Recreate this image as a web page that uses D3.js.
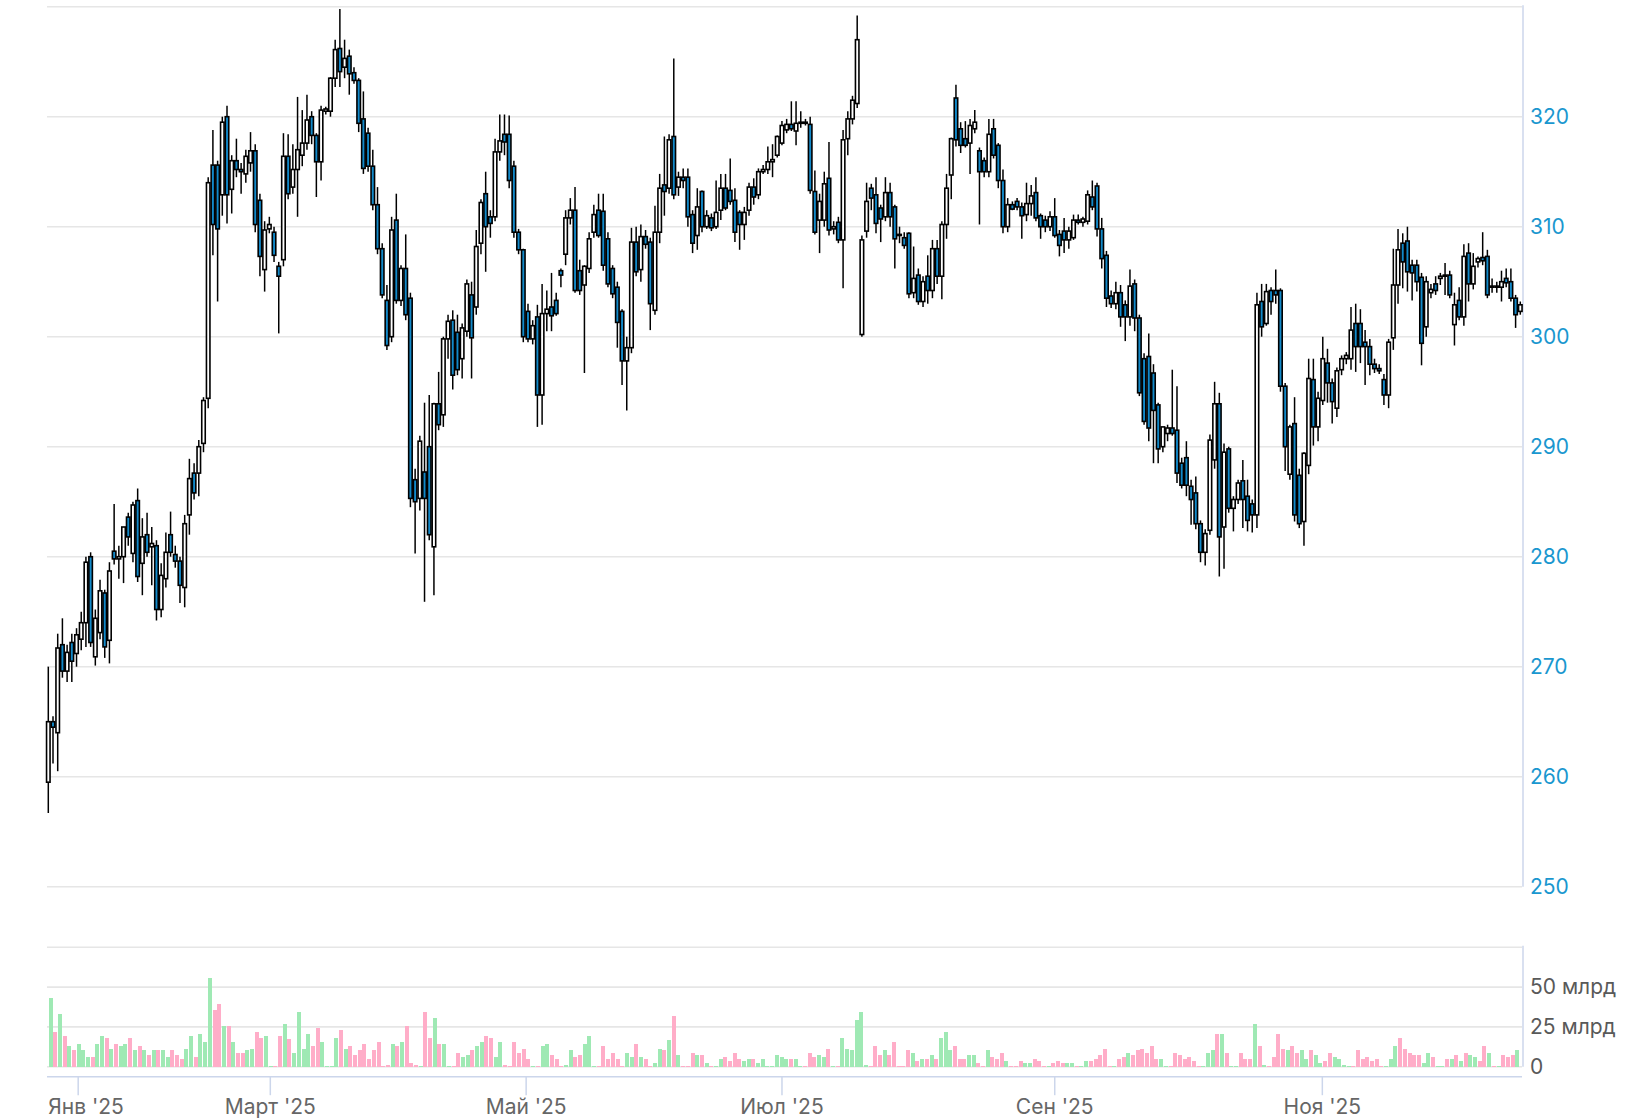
<!DOCTYPE html>
<html><head><meta charset="utf-8">
<script src="https://cdn.jsdelivr.net/npm/d3@7"></script>
<style>
html,body{margin:0;padding:0;background:#fff;}
svg{display:block;font-family:Inter,"Noto Sans",sans-serif;}
</style></head><body>
<svg id="c" width="1646" height="1119"></svg>
<script>
// ---- data ----
const open = [
259.5,265,264,272,269.6,272.2,271.2,272.5,274,280,
270.9,273.1,276.7,272.4,280.5,279.8,280,283.6,280.3,285.1,
279.4,282,280.9,281,275.2,278,282,280.2,279.6,277.2,
283.8,287.6,287.6,290.3,294.4,315.6,315.6,312.9,320,313.4,
316,315.2,314.8,315.8,316.9,312.4,306.1,309.8,309.5,306.4,
307,316.4,313.6,315.2,316.5,317.6,320,318.3,315.9,320.5,
320.5,323.5,326.2,324.5,325.5,324,323.3,319.8,318.5,315.5,
312,308,303.3,300,310.6,303.3,306.2,303.5,287,285.3,
287.7,290,280.9,293.9,292.9,299.8,301.5,300.4,298,300.5,
303.8,302.7,308.5,313,310.9,310.9,316.8,318.4,318.4,315.5,
309.5,307.9,302.3,299.8,301.8,294.7,302.1,302.7,303.3,306,
307.5,310.8,311.5,306,304.7,306.2,309.5,311.5,311.4,308.9,
306.2,304.5,302.3,297.8,299,308.6,306.1,309.1,308.6,302.4,
309.5,313.8,313.5,318.2,313.6,314.5,314.5,311.1,309.2,313.2,
310,310.8,310,311.5,313.5,313.3,312.4,311.3,310.2,311.5,
313.6,312.9,315,315.2,315.9,316.5,317.6,318.8,319.3,318.7,
319.4,319.5,319.3,313.2,310.6,310.6,314.4,309.8,310.4,308.8,
318,319.8,321.2,300.2,309.6,313.5,312.9,311.7,310.9,313.1,
311.8,309.3,309,309.4,304,305.6,303.2,305.5,304.2,308,
305.5,310.2,314.7,321.7,318.9,318,317.6,318.9,316.9,316,
315,318.9,317.4,314.2,310,312,312.3,311.8,311.1,312.1,
313.1,311,310.6,310,310.9,309.3,309.6,308.8,309,310.6,
310.4,310.5,312.7,313.7,309.8,307.4,303.7,303,304,302.9,
301.8,304.8,301.7,298,298.2,296.7,293.8,290,291.2,291.7,
291.5,288.5,289,286.4,285.8,283,280.4,282.4,288.8,293.9,
282.7,289.8,284.4,285.2,286.9,285.5,284.8,283.8,303.2,301.2,
304.2,304.2,304.2,295.5,287.5,292.1,287.4,283.2,288.3,296.1,
291.8,294.2,297.6,295.8,293.5,297,298,298,301.2,301.2,
299.5,299.1,297.5,297.1,296.1,294.7,299.9,304.7,308.5,308.7,
306.5,306.5,305.4,300.9,304,304.8,305.3,305.5,305.6,301.1,
303.3,301.8,307.6,304.8,306.8,307.2,307.3,304.5,304.6,304.5,
305.3,305,303.5,302.3];
const high = [
270,265.5,273,274.4,272,273,273.5,275,280,280.4,
275.2,277.9,277,279.5,284.8,281,282.7,284,285,286.2,
283.5,284,282.7,281.5,279.4,282.2,284.1,281,280,283.8,
288.9,288.5,290.6,294.5,314.5,318.8,316,320,321,316.5,
318,315.8,317,318.6,317.5,313,310.5,310.9,310,306.8,
318.5,318.4,317.5,321.8,320.6,322,320.5,318.5,321,320.9,
323.6,327,329.8,327,326.1,324.5,323.5,322.3,319,317,
313.6,308.5,304.7,310.9,313,306.5,309.3,304,288,291,
294,294.7,294,296.8,300,302,302.4,302,301.2,305.2,
305,309.7,312.5,315,311.5,318,320.2,320.2,320.1,316,
309.8,308,303,301.5,302.9,304.8,304.2,305.8,304,306.2,
311.5,312.6,313.6,307,306.5,309.5,312,313,313,309.5,
306.5,305,302.5,300,309.9,310,310.2,309.7,309,311.9,
314.8,318.2,318.4,325.3,315,315.3,315.3,311.5,313.5,313.3,
311.5,311.2,314.2,314.8,314.8,316.2,313.5,311.5,311.8,314,
314.4,315.3,315.6,317.3,317.5,318.3,319.6,319.8,321.4,321.4,
320.5,319.8,320,315.1,313,315,317.7,310.5,310.9,318.8,
320.5,321.9,329.2,309.2,314,313.9,314.5,312,314.5,314,
312,310,309.5,309.5,308.2,306.2,305.5,307.4,308.8,308.8,
310.5,314.8,318.1,322.9,319.5,319.6,319.8,320.6,317.2,316.3,
319.8,319.8,317.6,315.2,312.6,312.3,312.6,312.2,314,313.8,
314.5,311.2,311,311.4,312.6,309.7,310.8,310,311.1,311.1,
310.9,313.3,314.2,314,310.8,307.8,304.2,305,304.7,303.3,
306.1,305.2,302,298.5,300.3,297.5,294,291.8,292,297,
295.5,289,290.5,287,287.3,283.3,282.5,291.1,295.9,294.9,
290.3,290,285.5,287,288.8,287,285.2,304,304.8,304.8,
304.5,306.1,304.4,295.8,292,294.5,288,289.5,298,298,
295,300,298.9,296.2,297.2,298.3,298.6,302.7,303,302.5,
300.6,299.8,298,297.5,296.6,299.8,308,309.8,309.4,310,
307,307,305.8,305.5,304.8,305.5,305.8,306.7,306,304,
304.5,308.4,308.5,307.6,307.3,309.5,307.9,305.3,305,306,
306.2,306.2,303.8,303.2];
const low = [
256.7,261.2,260.5,269,268.6,268.6,270,271.5,271.8,271.8,
270.1,272.5,270.8,270.3,279.3,278,277.6,281,279.5,277.7,
276.5,280,277.4,274.2,274.5,277.2,280,279,275.8,275.4,
282,285.2,285.5,289.5,293.5,307.4,303.2,311,310.3,311.2,
314.5,313,314,315,309.5,305.5,304.1,309.4,306.8,300.3,
306.4,312.5,313,310.9,315.5,317,317.5,312.7,314.2,320.2,
320,322.7,322.7,323.5,322,323,318.6,314.8,315,311.5,
307.5,303.5,298.8,299.5,303,302.8,301.5,284.5,280.3,284.2,
275.9,281.5,276.5,291.5,291.8,298,295.2,296.5,296.2,300,
296.2,302,307.5,305.9,309,310.5,316,316.5,313.5,309,
307.5,299.5,299.5,299.3,291.8,292,300.5,300.5,301.9,304.5,
306.5,310.2,304,303.8,296.7,305.8,309,309,306,304.5,
303.5,299,295.6,293.3,298.5,305.5,305,308,300.6,302,
308.5,311,313,312.5,312.8,313.5,310,307.6,307.9,309.5,
309.8,309.6,309.8,310.6,311.5,312,308.6,307.9,308.8,311,
312,312.5,314.8,314.8,314.5,316.3,317.4,318.5,318.7,317.4,
319,319.2,313,309.3,307.6,310,309.2,309.3,308.5,304.4,
316.5,319.3,320.8,300,309,311.5,309.4,308.6,310.5,310,
306.2,308.5,308,303.5,303.5,302.9,302.7,303,303.5,304.8,
303.4,308.9,312.5,317.3,316.7,317.2,314.8,318.5,310.2,314.5,
314.5,316.2,313.5,309.4,309.5,311.5,311.5,308.9,310.5,311,
310.5,308.9,309.5,309.6,309,307.3,307.6,308,308.8,310.2,
310,310.2,311.5,309.1,306.2,302.7,302.6,302.5,300.9,299.6,
301,300.5,294.6,292,290.5,288.5,288.5,289.5,290.5,291,
286.7,286.2,285.5,282.9,282.5,279.5,279.2,282,288,278.2,
278.9,284,282.3,284.8,282.6,282.3,282.2,282.6,300,301,
302,303,295,287.8,287,283.2,282.6,281,287.5,290.1,
290.5,293.8,294,292.1,292.7,296.5,297.5,297,296.8,297.6,
295.6,296.5,296.7,296.6,293.8,293.5,298.8,303,304.4,304.1,
303.3,304.1,297.4,300,303.5,303.8,304.7,303.8,303.5,299.2,
301.5,301,303.2,304.3,306.3,306.5,303.5,304,304,303.2,
304.5,303.2,300.8,302];
const close = [
265,264.5,271.7,269.6,271.3,270.5,272.9,274,279.5,272.2,
274.4,276.9,271.8,278.7,279.8,280,282.7,281.8,284.7,278.2,
281.8,280.4,281.2,275.2,278.3,280.4,280.4,279.6,277.4,283,
287.1,285.8,290,294.2,314,310.2,309.8,319.5,312.9,316,
315.2,315,316.4,316.9,310.2,307.3,309.7,310.2,307.4,305.5,
316.4,313,315.2,317,317.6,319.7,318.3,315.9,320.6,320.7,
323.5,326.1,324.1,325.3,323.9,323.3,319.4,315.3,315.5,312,
308,303.8,299.2,309.7,303.3,306.2,302,285.3,285,290.5,
285.3,282,293.9,292,299.8,301.4,296.5,297,300.8,304.8,
299.9,308.2,312.2,310,310.3,316.8,317.8,317.7,314.2,309.5,
307.9,300,299.8,301,294.7,302.1,302.5,301.9,302.1,305.6,
310.8,311.5,304.2,304.2,306.4,308.9,311.1,309.2,306.5,304.8,
303.9,301.3,297.8,299,308.6,305.9,309.1,308.4,303,309.5,
313.5,313.2,317.9,312.9,314.5,314.2,310.9,308.5,311.8,310,
311,309.9,311.3,313.5,311.7,312.3,309.5,310.2,311.3,313.6,
312.7,315,315.2,315.9,316.1,318.2,319.2,319.3,318.9,319.4,
319.5,319.4,313.3,309.5,312.3,313.9,309.7,310,308.8,317.9,
319.8,321.5,327,308.8,312.3,312.6,310.3,310.7,313.1,310.9,
308.9,309.2,308.3,303.9,305.3,303.2,305,304.2,308,305.5,
310.2,313.5,318,317.9,317.4,317.4,319.2,319.5,315,315,
318.4,316.5,314.2,310,312,311.6,311.8,311,312.1,312.8,
310.8,310,310,310.9,309.2,308.3,308.8,309.6,310.6,310.4,
310.7,312.9,311.8,309.8,307.1,303.5,303,304,301.8,301.8,
304.6,301.7,294.9,292.3,291.7,293.3,289.8,291.8,291.7,291.2,
287.6,286.5,286.5,285.2,283,280.4,282.1,290.6,293.9,281.8,
289.5,284.4,285.2,286.7,285.2,283.3,283.8,302.9,300.9,304.1,
303.2,303.8,295.5,290,291.8,283.8,283,289.4,296.2,291.8,
294.4,298,295.8,294.1,296.9,298,298.3,300.6,299.1,299.1,
299.1,297.5,297.1,296.9,294.7,299.5,304.7,307.9,306.8,305.9,
305.8,305,299.4,305,304.3,304.2,305.5,305.6,303.8,302.9,
301.8,307.3,304.8,306.4,307.1,306.9,303.8,304.6,304.5,305,
304.9,303.5,302,302.9];
// volume, billions of rubles
const volume = [
43.2,21.6,33.1,19.1,12.7,10.2,14,10.2,6.4,6.4,
14,19.1,17.8,11.4,14,12.7,14,17.8,10.2,12.7,
10.2,7.6,10.2,10.2,10.2,6.4,10.2,7.6,5.1,11.4,
19.1,6.4,20.3,15.3,55.9,35.6,39.4,25.4,25.4,15.3,
8.9,8.9,10.2,11.4,21.6,17.8,19.1,0.2,0.2,19.1,
26.7,17.6,8.9,34.3,11.4,20.3,12.7,24.2,15.3,0.2,
0.2,17.8,22.9,11.4,12.7,7.6,10.2,14,5.1,10.2,
15.3,0.2,1.3,14,12.7,15.3,25.4,2.5,1.3,0.2,
34.3,17.8,30.5,14,14,0.2,0.2,8.9,6.4,7.6,
10.2,12.7,15.3,19.1,17.8,6.4,15.3,1.3,0.2,15.3,
8.9,11.4,5.1,0.2,0.2,12.7,14,7.6,5.1,0.2,
1.3,10.2,6.4,7.6,14,19.1,0.2,0.2,12.7,5.1,
8.9,5.1,0.2,8.9,6.4,14,6.4,5.1,0.2,2.5,
11.4,10.2,16.5,31.8,7.6,0.2,0.2,8.9,7.6,7.6,
2.5,0.2,0.2,5.1,6.4,3.8,8.9,5.1,3.8,5.1,
5.1,2.5,5.1,0.2,0.2,7.6,6.4,5.1,5.1,5.1,
0.2,0.2,8.9,6.4,7.6,6.4,11.4,0.2,0.2,17.8,
11.4,10.2,29.2,34.3,1.3,0.2,12.7,7.6,10.2,7.6,
15.3,0.2,0.2,10.2,8.9,3.8,5.1,5.1,7.6,5.1,
17.8,21.6,10.2,12.7,5.1,5.1,7.6,7.6,2.5,0.2,
10.2,6.4,5.1,8.9,3.8,0.2,0.2,3.8,2.5,2.5,
5.1,3.8,0.2,0.2,2.5,3.8,2.5,2.5,2.5,0.2,
0.2,3.8,3.8,5.1,7.6,11.4,0.2,0.2,5.1,6.4,
8.9,7.6,10.2,11.4,8.9,12.7,5.1,5.1,0.2,0.2,
8.9,7.6,5.1,6.4,3.8,0.2,0.2,8.9,10.2,20.3,
20.3,8.9,0.2,0.2,8.9,5.1,5.1,26.7,12.7,1.3,
0.2,6.4,20.3,11.4,10.2,12.7,8.9,10.2,5.1,10.2,
7.6,2.5,3.8,8.9,6.4,5.1,1,0.2,0.2,10.2,
5.1,6.4,3.8,5.1,0.2,0.2,5.1,12.7,17.8,11.4,
8.9,7.6,7.6,2.5,8.9,6.4,0.2,0.2,5.1,5.1,
7.6,3.8,8.9,7.6,6.4,3.8,12.7,8.9,0.2,0.2,
7.6,6.4,7.6,10.2];
const tickLabels = ["Янв '25","Март '25","Май '25","Июл '25","Сен '25","Ноя '25"];
const tickSlots = [6.25, 47.1, 101.5, 155.9, 213.9, 270.8];
const priceTicks = [250,260,270,280,290,300,310,320];
const priceGrid = [250,260,270,280,290,300,310,320,330];
const volTicks = [0,25,50];
const volGrid = [0,25,50,75];

// ---- drawing ----
const N = Math.min(open.length, high.length, low.length, close.length, volume.length);
const svg = d3.select("#c");
const plotL = 47, plotR = 1522, axisX = 1523;
const x  = d3.scaleLinear().domain([0, N-1]).range([48.3, 1520.3]);
const xv = d3.scaleLinear().domain([0, N-1]).range([50.5, 1517.3]);
const y  = d3.scaleLinear().domain([250, 330]).range([886.7, 6.7]);
const yv = d3.scaleLinear().domain([0, 76]).range([1066.7, 945.7]);
const BLUE = "#1289c9", GREEN = "#9fe9b4", PINK = "#ffadc8", AXIS = "#ccd6eb", GRID = "#e6e6e6";

// grid lines
svg.append("g").selectAll("line").data(priceGrid).join("line")
  .attr("x1", plotL).attr("x2", plotR).attr("y1", d => y(d)).attr("y2", d => y(d))
  .attr("stroke", GRID).attr("stroke-width", 1.6);
svg.append("g").selectAll("line").data(volGrid).join("line")
  .attr("x1", plotL).attr("x2", plotR).attr("y1", d => yv(d)).attr("y2", d => yv(d))
  .attr("stroke", GRID).attr("stroke-width", 1.6);

// axis lines
svg.append("line").attr("x1", axisX).attr("x2", axisX).attr("y1", y(330) - 1.5).attr("y2", y(250))
  .attr("stroke", AXIS).attr("stroke-width", 1.5);
svg.append("line").attr("x1", axisX).attr("x2", axisX).attr("y1", yv(76)).attr("y2", yv(0))
  .attr("stroke", AXIS).attr("stroke-width", 1.5);

// volume bars
const idx = d3.range(N);
svg.append("g").attr("shape-rendering", "crispEdges").selectAll("rect").data(idx).join("rect")
  .attr("x", i => xv(i) - 2).attr("width", 4)
  .attr("y", i => yv(volume[i])).attr("height", i => yv(0) - yv(volume[i]))
  .attr("fill", i => close[i] >= open[i] ? GREEN : PINK);

// candles
const cg = svg.append("g");
idx.forEach(i => {
  const cx = x(i);
  const g = cg.append("g");
  g.append("line").attr("x1", cx).attr("x2", cx)
    .attr("y1", y(high[i])).attr("y2", y(low[i]))
    .attr("stroke", "#000").attr("stroke-width", 1.5);
  const top = y(Math.max(open[i], close[i])), bot = y(Math.min(open[i], close[i]));
  g.append("rect").attr("x", cx - 1.75).attr("width", 3.5)
    .attr("y", top).attr("height", Math.max(1, bot - top))
    .attr("fill", close[i] >= open[i] ? "#fff" : BLUE)
    .attr("stroke", "#000").attr("stroke-width", 1.6);
});

// price axis labels
const pa = svg.append("g").attr("transform", `translate(${axisX},0)`)
  .call(d3.axisRight(y).tickValues(priceTicks).tickSize(0).tickPadding(7));
pa.select(".domain").remove();
pa.selectAll("text").attr("font-size", 21).attr("fill", "#1a97cf").attr("font-family", "Inter, sans-serif");

// volume axis labels
const va = svg.append("g").attr("transform", `translate(${axisX},0)`)
  .call(d3.axisRight(yv).tickValues(volTicks).tickSize(0).tickPadding(7)
    .tickFormat(d => d === 0 ? "0" : d + " млрд"));
va.select(".domain").remove();
va.selectAll("text").attr("font-size", 21).attr("fill", "#595959").attr("font-family", "Inter, sans-serif");

// x axis
const xa = svg.append("g").attr("transform", "translate(0,1076.7)")
  .call(d3.axisBottom(x).tickValues(tickSlots).tickSize(18.5).tickSizeOuter(0)
    .tickFormat((d, i) => tickLabels[i]));
xa.select(".domain").remove();
xa.selectAll(".tick line").attr("stroke", AXIS).attr("stroke-width", 1.5);
xa.selectAll("text").attr("font-size", 21).attr("fill", "#666").attr("font-family", "Inter, sans-serif")
  .attr("y", 30).attr("dy", "0.35em");
xa.selectAll(".tick").each(function(d) {
  const t = d3.select(this).select("text");
  const w = t.node().getComputedTextLength();
  const tx = x(d);
  if (tx - w / 2 < plotL) t.attr("text-anchor", "start").attr("x", plotL + 0.8 - tx);
});
svg.append("line").attr("x1", plotL).attr("x2", plotR).attr("y1", 1076.7).attr("y2", 1076.7)
  .attr("stroke", AXIS).attr("stroke-width", 1.5);
</script>
</body></html>
